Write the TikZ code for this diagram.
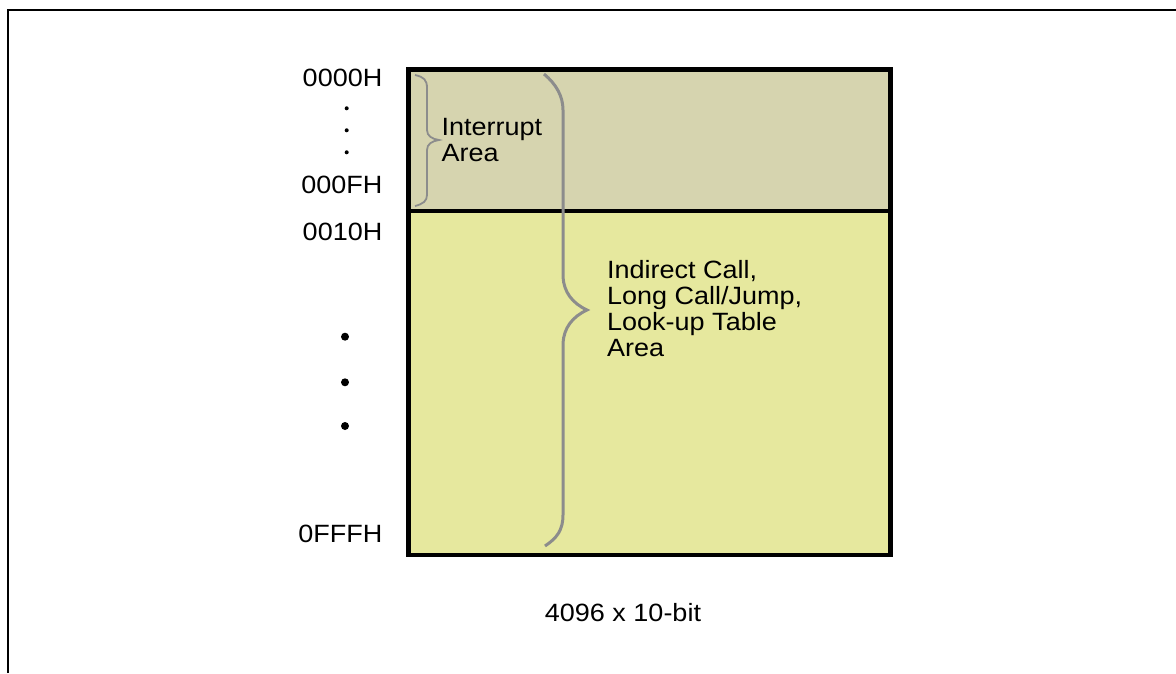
\documentclass[tikz,border=0pt]{standalone}
\usepackage{fontspec}
\setmainfont{Liberation Sans}[FakeStretch=1.08]
\usepackage{tikz}
\definecolor{memtan}{RGB}{214,212,175}
\definecolor{memyellow}{RGB}{230,232,158}
\definecolor{memgray}{RGB}{140,140,140}

\begin{document}
\begin{tikzpicture}[x=1pt, y=-1pt, font=\fontsize{25}{26}\selectfont,
  every node/.style={inner sep=0pt}]
\useasboundingbox (0,0) rectangle (1176,673);
% Frame
\draw[line width=2pt] (7.7,673) -- (7.7,10) -- (1176,10);
% Memory areas
\fill[memtan] (408.4,69.7) rectangle (890.5,210.8);
\fill[memyellow] (408.4,210.8) rectangle (890.5,555);
\draw[line width=4.5pt] (408.4,210.8) -- (890.5,210.8);
\draw[line width=4.5pt] (408.4,69.7) rectangle (890.5,555);
% Braces
\draw[memgray, line width=1.8pt] (415,75) .. controls (424,77) and (427,80) .. (427,88)
  -- (427,130) .. controls (427,136) and (432,139) .. (439,140)
  .. controls (432,141) and (427,144) .. (427,150)
  -- (427,195) .. controls (427,201) and (423,204) .. (415,206);
\draw[memgray, line width=3pt] (544,74) .. controls (556,84) and (563,96) .. (563,110)
  -- (563,277) .. controls (564,292) and (572,303) .. (587,310)
  .. controls (572,317) and (564,328) .. (563,343)
  -- (563,515) .. controls (563,530) and (557,538) .. (545,546);
% Addresses
\node[anchor=base east] (a0000) at (382.5,86) {0000H};
\node[anchor=base east] (a000F) at (382.5,193.5) {000FH};
\node[anchor=base east] (a0010) at (382.5,240) {0010H};
\node[anchor=base east] (a0FFF) at (382.5,542.3) {0FFFH};
% Dots
\fill (346.7,108.3) circle (2);
\fill (346.7,130.3) circle (2);
\fill (346.7,152.3) circle (2);
\fill (345,336.7) circle (4);
\fill (345,382.3) circle (4);
\fill (345,426) circle (4);
% Labels
\node[anchor=base west, align=left] (intarea) at (441.5,161) {Interrupt\\Area};
\node[anchor=base west, align=left] (tabarea) at (607,356.7)
  {Indirect Call,\\Long Call/Jump,\\Look-up Table\\Area};
\node[anchor=base] (romsize) at (623,621.7) {4096 x 10-bit};
\end{tikzpicture}
\end{document}
